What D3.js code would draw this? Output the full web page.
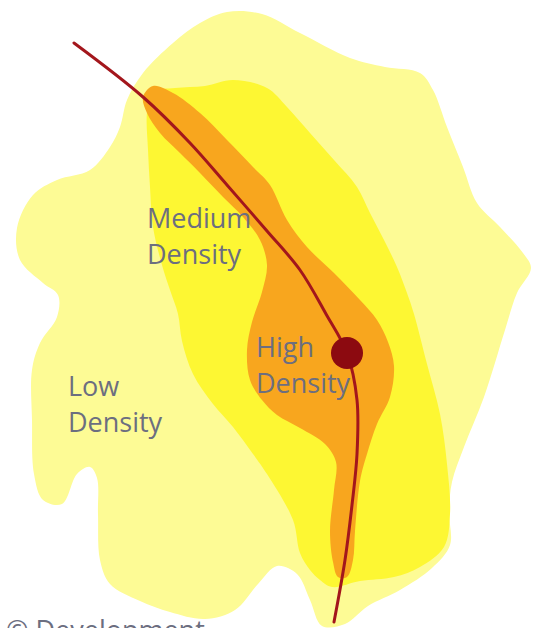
<!DOCTYPE html>
<html>
<head>
<meta charset="utf-8">
<script src="https://cdn.jsdelivr.net/npm/d3@7"></script>
<style>
  body { margin: 0; background: #fff; }
  svg { display: block; }
  .zoneLabel { font-family: "Open Sans", sans-serif; font-size: 27px; fill: #6c6e80; }
</style>
</head>
<body>
<svg id="densityMap" width="534" height="628"></svg>
<script>
/*********************************************
    * Density zones along the corridor
*********************************************/

// outline of each zone, in map units (0-534 across, 0-628 down)
var lowZone = [[227,12],[262,14],[300,33],[350,58],[385,67],[420,73],[433,90],[447,127],[463,167],
  [477,203],[500,227],[523,253],[531,268],[517,293],[505,330],[484,397],[464,447],[452,482],
  [449,512],[450,545],[432,568],[400,590],[368,606],[345,624],[322,626],[310,600],[297,574],
  [277,566],[258,584],[235,610],[205,619],[170,612],[140,601],[110,584],[100,560],[98,514],
  [97,478],[90,467],[77,474],[62,504],[43,500],[34,474],[32,420],[32,370],[40,343],[57,317],
  [58,295],[43,283],[20,260],[17,228],[33,195],[57,180],[90,170],[110,147],[120,127],
  [127,100],[143,73],[173,43],[200,23]];

var mediumZone = [[233,80],[267,88],[287,107],[310,133],[334,160],[357,187],[370,213],[384,240],
  [397,267],[407,293],[414,314],[427,364],[440,414],[447,464],[450,514],[444,547],[420,567],
  [394,577],[360,581],[332,587],[320,580],[310,570],[300,553],[293,520],[267,474],[253,454],
  [233,427],[213,404],[193,374],[182,341],[178,314],[170,290],[162,265],[153,227],[150,187],
  [148,150],[147,112],[152,92],[175,88],[205,86]];

var highZone = [[153,86],[173,93],[200,113],[227,140],[253,167],[270,185],[287,220],[307,247],
  [334,273],[360,300],[377,320],[388,342],[394,366],[390,397],[377,424],[367,454],[360,481],
  [355,531],[353,560],[347,577],[338,577],[333,562],[330,531],[334,490],[336,462],[325,444],
  [300,428],[277,415],[262,400],[250,380],[247,350],[252,322],[262,292],[267,265],[260,240],
  [243,217],[223,197],[200,173],[180,153],[160,133],[147,113],[143,97]];

// the corridor itself and the centre on it
var corridor = [[74,43],[143,97],[190,143],[227,185],[267,231],[300,270],[326,314],[347,353],
  [357,400],[357,454],[352,505],[345,560],[334,622]];
var centre = [347,353];

var labels = [
  {lines: ["Medium", "Density"], x: 147, y: 228},
  {lines: ["High", "Density"], x: 256, y: 357},
  {lines: ["Low", "Density"], x: 68, y: 396}
];
var credit = "\u00a9 Development";

var svg = d3.select("#densityMap"),
    width = +svg.attr("width"),
    height = +svg.attr("height");

var x = d3.scaleLinear().domain([0, 534]).range([0, width]);
var y = d3.scaleLinear().domain([0, 628]).range([0, height]);

var zoneLine = d3.line()
    .x(function(d) { return x(d[0]); })
    .y(function(d) { return y(d[1]); })
    .curve(d3.curveCatmullRomClosed.alpha(0.5));

var roadLine = d3.line()
    .x(function(d) { return x(d[0]); })
    .y(function(d) { return y(d[1]); })
    .curve(d3.curveCatmullRom.alpha(0.5));

var zones = [
  {name: "low", pts: lowZone, color: "#fdfb95"},
  {name: "medium", pts: mediumZone, color: "#fdf733"},
  {name: "high", pts: highZone, color: "#f8a61e"}
];

svg.selectAll(".zone")
    .data(zones)
    .enter().append("path")
    .attr("class", "zone")
    .attr("d", function(d) { return zoneLine(d.pts); })
    .attr("fill", function(d) { return d.color; });

svg.append("path")
    .attr("d", roadLine(corridor))
    .attr("fill", "none")
    .attr("stroke", "#a3161c")
    .attr("stroke-width", 3)
    .attr("stroke-linecap", "round");

svg.append("circle")
    .attr("cx", x(centre[0]))
    .attr("cy", y(centre[1]))
    .attr("r", 16)
    .attr("fill", "#8c0a10");

var lab = svg.selectAll(".zoneLabel")
    .data(labels)
    .enter().append("text")
    .attr("class", "zoneLabel")
    .attr("x", function(d) { return x(d.x); })
    .attr("y", function(d) { return y(d.y); });

lab.selectAll("tspan")
    .data(function(d) { return d.lines.map(function(t, i) { return {t: t, x: d.x, i: i}; }); })
    .enter().append("tspan")
    .attr("x", function(d) { return x(d.x); })
    .attr("dy", function(d) { return d.i ? 36 : 0; })
    .text(function(d) { return d.t; });

// credit line, cut by the bottom edge as in the source
svg.append("text")
    .attr("class", "zoneLabel")
    .attr("x", 6)
    .attr("y", 640)
    .text(credit);
</script>
</body>
</html>
